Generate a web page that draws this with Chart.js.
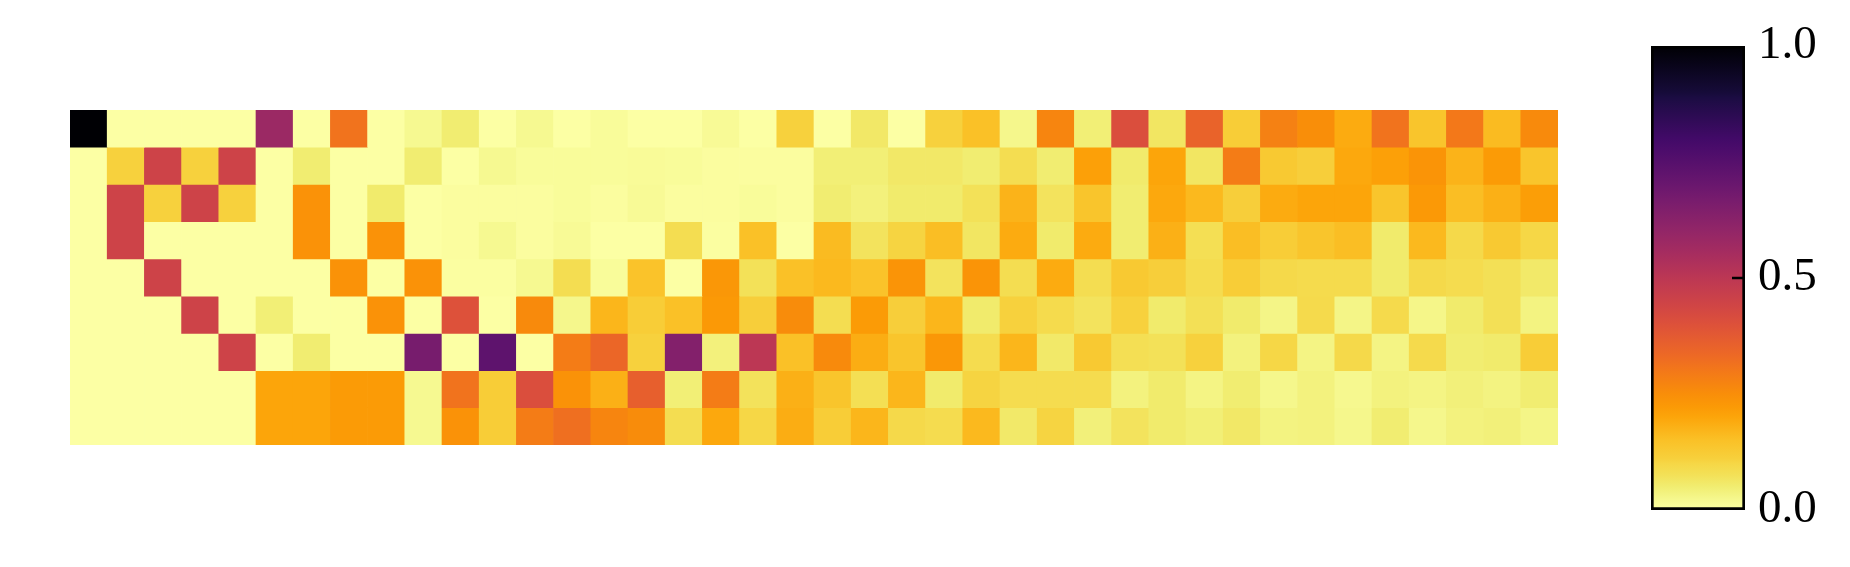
<!DOCTYPE html>
<html>
<head>
<meta charset="utf-8">
<script src="https://cdn.jsdelivr.net/npm/chart.js@4.4.1/dist/chart.umd.min.js"></script>
<style>
  html, body { margin: 0; padding: 0; background: #fff; }
  #wrap { position: relative; width: 1850px; height: 567px; }
  #heat { position: absolute; left: 0; top: 0; }
  #cbar { position: absolute; left: 1600px; top: 0; }
</style>
</head>
<body>
<div id="wrap">
  <canvas id="heat" width="1600" height="567"></canvas>
  <canvas id="cbar" width="250" height="567"></canvas>
</div>
<script>
// heatmap values, one list per row (top to bottom), 40 columns each
const row0 = [1.0, 0, 0, 0, 0, 0.58, 0, 0.31, 0, 0.02, 0.05, 0, 0.02, 0, 0.01, 0, 0, 0.015, 0, 0.11, 0, 0.06, 0, 0.11, 0.15, 0.025, 0.27, 0.045, 0.41, 0.065, 0.35, 0.12, 0.28, 0.25, 0.19, 0.31, 0.14, 0.30, 0.16, 0.26];
const row1 = [0, 0.11, 0.45, 0.11, 0.45, 0, 0.05, 0, 0, 0.05, 0, 0.02, 0.01, 0.01, 0.01, 0.012, 0.01, 0.005, 0.005, 0.005, 0.045, 0.045, 0.06, 0.06, 0.05, 0.085, 0.05, 0.21, 0.055, 0.20, 0.065, 0.29, 0.13, 0.115, 0.195, 0.21, 0.235, 0.175, 0.22, 0.14];
const row2 = [0, 0.45, 0.11, 0.45, 0.11, 0, 0.24, 0, 0.055, 0, 0.005, 0.005, 0.005, 0.01, 0.005, 0.015, 0.005, 0.005, 0.01, 0.005, 0.05, 0.04, 0.055, 0.055, 0.075, 0.175, 0.07, 0.14, 0.05, 0.195, 0.165, 0.115, 0.19, 0.20, 0.20, 0.14, 0.225, 0.155, 0.18, 0.215];
const row3 = [0, 0.45, 0, 0, 0, 0, 0.24, 0, 0.24, 0, 0.005, 0.02, 0.005, 0.015, 0, 0, 0.085, 0.003, 0.15, 0, 0.16, 0.07, 0.105, 0.155, 0.065, 0.19, 0.055, 0.19, 0.05, 0.18, 0.08, 0.155, 0.12, 0.14, 0.155, 0.055, 0.165, 0.095, 0.13, 0.10];
const row4 = [0, 0, 0.45, 0, 0, 0, 0, 0.24, 0, 0.24, 0.003, 0.003, 0.02, 0.085, 0.01, 0.145, 0, 0.23, 0.075, 0.15, 0.165, 0.145, 0.235, 0.07, 0.235, 0.085, 0.19, 0.085, 0.13, 0.115, 0.088, 0.12, 0.095, 0.09, 0.09, 0.055, 0.095, 0.088, 0.078, 0.058];
const row5 = [0, 0, 0, 0.45, 0, 0.045, 0, 0, 0.24, 0, 0.40, 0, 0.26, 0.025, 0.17, 0.12, 0.15, 0.225, 0.115, 0.255, 0.085, 0.22, 0.115, 0.17, 0.055, 0.11, 0.09, 0.07, 0.11, 0.055, 0.078, 0.055, 0.03, 0.092, 0.03, 0.092, 0.028, 0.055, 0.078, 0.035];
const row6 = [0, 0, 0, 0, 0.45, 0, 0.05, 0, 0, 0.67, 0, 0.73, 0, 0.29, 0.34, 0.11, 0.64, 0.04, 0.50, 0.15, 0.26, 0.185, 0.14, 0.23, 0.088, 0.17, 0.058, 0.13, 0.08, 0.075, 0.11, 0.038, 0.10, 0.032, 0.095, 0.032, 0.092, 0.05, 0.055, 0.12];
const row7 = [0, 0, 0, 0, 0, 0.20, 0.20, 0.22, 0.22, 0.02, 0.31, 0.12, 0.41, 0.24, 0.18, 0.36, 0.045, 0.29, 0.072, 0.18, 0.14, 0.08, 0.17, 0.055, 0.105, 0.088, 0.088, 0.088, 0.038, 0.055, 0.032, 0.05, 0.025, 0.038, 0.022, 0.038, 0.032, 0.042, 0.035, 0.05];
const row8 = [0, 0, 0, 0, 0, 0.20, 0.20, 0.22, 0.22, 0.02, 0.24, 0.12, 0.29, 0.32, 0.27, 0.255, 0.085, 0.195, 0.10, 0.185, 0.12, 0.17, 0.095, 0.088, 0.165, 0.058, 0.105, 0.042, 0.07, 0.055, 0.045, 0.06, 0.035, 0.038, 0.025, 0.05, 0.025, 0.038, 0.042, 0.03];

const rows = [row0, row1, row2, row3, row4, row5, row6, row7, row8];
const columns = row0.map((_, i) => String(i));

const cbarTicks = [0, 0.5, 1];
const cbarLabels = ['0.0', '0.5', '1.0'];

// inferno, reversed (0 = pale yellow, 1 = black)
const cmap = [
  [0.000, 252, 255, 164],
  [0.025, 245, 247, 140],
  [0.050, 241, 237, 113],
  [0.075, 243, 225, 88],
  [0.100, 246, 215, 70],
  [0.111, 247, 208, 60],
  [0.150, 250, 193, 39],
  [0.200, 252, 165, 10],
  [0.222, 251, 154, 6],
  [0.250, 249, 142, 9],
  [0.300, 243, 120, 25],
  [0.333, 237, 105, 37],
  [0.400, 221, 81, 58],
  [0.444, 207, 68, 70],
  [0.500, 188, 55, 84],
  [0.556, 165, 44, 96],
  [0.600, 147, 38, 103],
  [0.667, 120, 28, 109],
  [0.700, 106, 23, 110],
  [0.778, 75, 12, 107],
  [0.800, 66, 10, 104],
  [0.889, 27, 12, 66],
  [0.900, 22, 11, 57],
  [1.000, 0, 0, 4]
];

function colorFor(v) {
  for (let i = 1; i < cmap.length; i++) {
    if (v <= cmap[i][0]) {
      const a = cmap[i - 1], b = cmap[i];
      const t = (v - a[0]) / (b[0] - a[0]);
      const c = [1, 2, 3].map(k => Math.round(a[k] + (b[k] - a[k]) * t));
      return `rgb(${c[0]}, ${c[1]}, ${c[2]})`;
    }
  }
  return 'rgb(0, 0, 4)';
}

Chart.defaults.font.family = "'Liberation Serif', serif";

new Chart(document.getElementById('heat'), {
  type: 'bar',
  data: {
    labels: columns,
    datasets: rows.map((vals, r) => ({
      data: vals.map(() => [r, r + 1]),
      backgroundColor: vals.map(colorFor),
      borderWidth: 0,
      grouped: false,
      barPercentage: 1,
      categoryPercentage: 1
    }))
  },
  options: {
    responsive: false,
    animation: false,
    devicePixelRatio: 1,
    layout: { padding: { left: 70, right: 42, top: 110, bottom: 122 } },
    scales: {
      x: { display: false },
      y: { display: false, min: 0, max: rows.length, reverse: true }
    },
    plugins: { legend: { display: false }, tooltip: { enabled: false } }
  }
});

// inward tick marks on the colorbar (end ticks hide under the frame)
const inwardTicks = {
  id: 'inwardTicks',
  afterDatasetsDraw(chart) {
    const { ctx, chartArea, scales } = chart;
    ctx.save();
    ctx.strokeStyle = '#000';
    ctx.lineWidth = 2.5;
    cbarTicks.filter(v => v > 0 && v < 1).forEach(v => {
      const y = scales.y.getPixelForValue(v);
      ctx.beginPath();
      ctx.moveTo(chartArea.right - 13, y);
      ctx.lineTo(chartArea.right, y);
      ctx.stroke();
    });
    ctx.restore();
  }
};

new Chart(document.getElementById('cbar'), {
  type: 'bar',
  data: {
    labels: ['cbar'],
    datasets: [{
      data: [[0, 1]],
      backgroundColor: (c) => {
        const area = c.chart.chartArea;
        if (!area) return null;
        const g = c.chart.ctx.createLinearGradient(0, area.bottom, 0, area.top);
        cmap.forEach(s => g.addColorStop(s[0], `rgb(${s[1]}, ${s[2]}, ${s[3]})`));
        return g;
      },
      borderColor: '#000',
      borderWidth: 3,
      borderSkipped: false,
      barPercentage: 1,
      categoryPercentage: 1
    }]
  },
  options: {
    responsive: false,
    animation: false,
    devicePixelRatio: 1,
    layout: { padding: { left: 51, right: 0, top: 46, bottom: 57 } },
    scales: {
      x: { display: false },
      y: {
        position: 'right',
        min: 0,
        max: 1,
        afterBuildTicks: (scale) => { scale.ticks = cbarTicks.map(v => ({ value: v })); },
        afterFit: (scale) => { scale.width = 105; },
        grid: { display: false, drawTicks: false },
        border: { display: false },
        ticks: {
          color: '#000',
          padding: 13,
          font: { size: 47 },
          callback: (v) => cbarLabels[cbarTicks.indexOf(v)]
        }
      }
    },
    plugins: { legend: { display: false }, tooltip: { enabled: false } }
  },
  plugins: [inwardTicks]
});
</script>
</body>
</html>
